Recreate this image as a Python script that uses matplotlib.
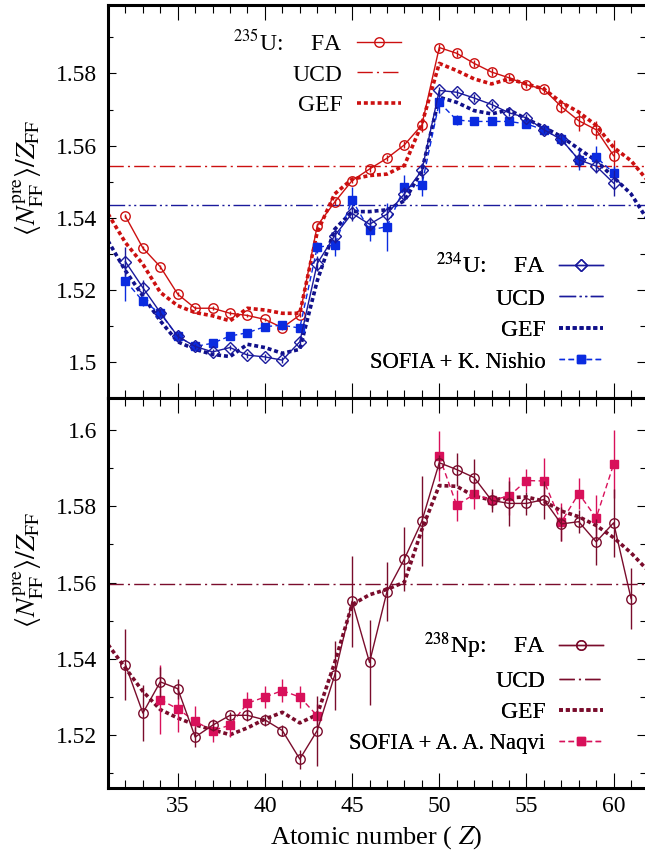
# plot.py
# Prescission neutrons per fragment charge vs atomic number, two panels

import numpy as np
import matplotlib.pyplot as plt
from matplotlib.ticker import MultipleLocator, FormatStrFormatter

plt.rcParams['font.family'] = 'serif'
plt.rcParams['font.serif'] = ['Liberation Serif', 'DejaVu Serif']
plt.rcParams['mathtext.fontset'] = 'stix'

# ---- data ----
Z_FA = np.arange(32, 61)          # 32 .. 60
Z_GEF = np.arange(31, 63)         # 31 .. 62
Z_NP = np.arange(32, 62)          # 32 .. 61
Z_NAQVI = np.arange(34, 61)       # 34 .. 60 (gap 44-49)

u235_fa = [1.5404, 1.5316, 1.5264, 1.5188, 1.5149, 1.5149, 1.5135, 1.5129, 1.5118, 1.5095,
           1.5130, 1.5378, 1.5443, 1.5503, 1.5535, 1.5565, 1.5602, 1.5657, 1.5872, 1.5856,
           1.5828, 1.5804, 1.5788, 1.5769, 1.5756, 1.5708, 1.5669, 1.5644, 1.5572]
u235_fa_err = [0.0005, 0.0005, 0.0005, 0.0005, 0.0005, 0.0005, 0.0005, 0.0005, 0.0005, 0.0005,
               0.0005, 0.0008, 0.0008, 0.0008, 0.0008, 0.0008, 0.001, 0.002, 0.001, 0.001,
               0.001, 0.001, 0.001, 0.001, 0.001, 0.0017, 0.0028, 0.0025, 0.0043]
u235_gef = [1.5411, 1.5331, 1.5271, 1.5193, 1.5156, 1.5137, 1.5128, 1.5114, 1.5149, 1.5144,
            1.5135, 1.5135, 1.5360, 1.5466, 1.5507, 1.5517, 1.5521, 1.5545, 1.5660, 1.5828,
            1.5808, 1.5785, 1.5771, 1.5785, 1.5771, 1.5757, 1.5720, 1.5693, 1.5656, 1.5595,
            1.5558, 1.5500]
u235_ucd = 1.5543

u234_fa = [1.5278, 1.5206, 1.5137, 1.5071, 1.5043, 1.5028, 1.5040, 1.5019, 1.5014, 1.5005,
           1.5056, 1.5273, 1.5350, 1.5412, 1.5382, 1.5410, 1.5466, 1.5531, 1.5753, 1.5748,
           1.5732, 1.5714, 1.5691, 1.5677, 1.5644, 1.5617, 1.5561, 1.5543, 1.5496]
u234_fa_err = [0.004, 0.002, 0.001, 0.0008, 0.0008, 0.0008, 0.0008, 0.0008, 0.0008, 0.0008,
               0.0008, 0.002, 0.002, 0.002, 0.002, 0.002, 0.002, 0.002, 0.001, 0.001,
               0.001, 0.001, 0.001, 0.001, 0.001, 0.0015, 0.002, 0.002, 0.0037]
u234_gef = [1.5336, 1.5253, 1.5183, 1.5114, 1.5056, 1.5035, 1.5021, 1.5015, 1.5049, 1.5040,
            1.5024, 1.5035, 1.5225, 1.5368, 1.5417, 1.5417, 1.5422, 1.5447, 1.5530, 1.5734,
            1.5720, 1.5697, 1.5688, 1.5699, 1.5674, 1.5651, 1.5625, 1.5591, 1.5558, 1.5512,
            1.5466, 1.5390]
u234_ucd = 1.5435
nishio = [1.5225, 1.5169, 1.5135, 1.5071, 1.5043, 1.5052, 1.5072, 1.5081, 1.5098, 1.5102,
          1.5094, 1.5318, 1.5325, 1.5449, 1.5366, 1.5375, 1.5484, 1.5491, 1.5720, 1.5671,
          1.5667, 1.5667, 1.5667, 1.5660, 1.5644, 1.5617, 1.5561, 1.5568, 1.5524]
nishio_err = [0.0055, 0.0015, 0.001, 0.0008, 0.0008, 0.0008, 0.0008, 0.0008, 0.0008, 0.0008,
              0.0008, 0.0015, 0.003, 0.0035, 0.003, 0.0067, 0.0035, 0.003, 0.003, 0.0015,
              0.001, 0.001, 0.001, 0.001, 0.001, 0.0015, 0.0028, 0.003, 0.002]

np238_fa = [1.5384, 1.5257, 1.5339, 1.5321, 1.5194, 1.5225, 1.5251, 1.5251, 1.5239, 1.5211,
            1.5136, 1.5211, 1.5356, 1.5551, 1.5390, 1.5576, 1.5662, 1.5761, 1.5915, 1.5897,
            1.5876, 1.5816, 1.5808, 1.5808, 1.5818, 1.5754, 1.5760, 1.5707, 1.5757, 1.5558]
np238_fa_err = [0.0094, 0.0073, 0.004, 0.0026, 0.0025, 0.0015, 0.001, 0.0015, 0.0015, 0.0015,
                0.0025, 0.0092, 0.009, 0.012, 0.0112, 0.0077, 0.0083, 0.0118, 0.002, 0.0044,
                0.005, 0.003, 0.006, 0.003, 0.005, 0.0045, 0.003, 0.006, 0.009, 0.008]
np238_gef = [1.5437, 1.5375, 1.5314, 1.5266, 1.5244, 1.5226, 1.5213, 1.5200, 1.5218, 1.5241,
             1.5259, 1.5231, 1.5253, 1.5389, 1.5542, 1.5568, 1.5582, 1.5601, 1.5739, 1.5855,
             1.5853, 1.5827, 1.5817, 1.5823, 1.5825, 1.5814, 1.5788, 1.5773, 1.5750, 1.5718,
             1.5678, 1.5630]
np238_ucd = 1.5597
nan = np.nan
naqvi = [1.5292, 1.5268, 1.5235, 1.5211, 1.5225, 1.5283, 1.5299, 1.5316, 1.5299, 1.5250,
         nan, nan, nan, nan, nan, nan,
         1.5932, 1.5803, 1.5832, 1.5817, 1.5827, 1.5868, 1.5867, 1.5759, 1.5834, 1.5770, 1.5911]
naqvi_err = [0.009, 0.006, 0.004, 0.003, 0.003, 0.003, 0.003, 0.003, 0.003, 0.003,
             nan, nan, nan, nan, nan, nan,
             0.0066, 0.004, 0.004, 0.002, 0.005, 0.003, 0.006, 0.005, 0.004, 0.006, 0.009]

RED = '#cc1010'
NAVY = '#1a1a9c'
GEF_BLUE = '#10108a'
SOFIA_BLUE = '#0a2be0'
MAROON = '#7a0c2c'
PINK = '#d8105a'

GEF_LS = (0, (1.1, 0.8))
UCD_LS = (0, (11, 3, 1.5, 3))
UCD2_LS = (0, (12, 2.5, 1.5, 2.5, 1.5, 2.5))
SOFIA_LS = (0, (4, 2.5))

YLABEL = r'$\langle N_{\rm FF}^{\rm pre}\rangle / Z_{\rm FF}$'


def style_axis(ax, ylo, yhi):
    ax.set_xlim(31, 61.8)
    ax.set_ylim(ylo, yhi)
    ax.xaxis.set_major_locator(MultipleLocator(5))
    ax.xaxis.set_minor_locator(MultipleLocator(1))
    ax.yaxis.set_major_locator(MultipleLocator(0.02))
    ax.yaxis.set_minor_locator(MultipleLocator(0.01))
    ax.yaxis.set_major_formatter(FormatStrFormatter('%g'))
    ax.tick_params(which='both', direction='in', top=True, right=True, labelsize=17, width=0.8)
    ax.tick_params(axis='x', which='major', length=11, pad=6)
    ax.tick_params(axis='x', which='minor', length=6)
    ax.tick_params(axis='y', which='major', length=6, pad=8)
    ax.tick_params(axis='y', which='minor', length=3.5)
    for s in ['left', 'bottom', 'top']:
        ax.spines[s].set_linewidth(2.2)
    ax.spines['right'].set_visible(False)
    ax.set_ylabel(YLABEL, fontsize=20)
    ax.yaxis.set_label_coords(-0.115, 0.56)


def group_legend(ax, handles, labels, anchor, spacing, small_last=False):
    leg = ax.legend(handles, labels, loc='upper right', bbox_to_anchor=anchor,
                    frameon=False, markerfirst=False, fontsize=17, handlelength=1.85,
                    handletextpad=0.6, labelspacing=spacing, borderpad=0, borderaxespad=0,
                    numpoints=1)
    if small_last:
        leg.get_texts()[-1].set_fontsize(16.3)
    ax.add_artist(leg)
    return leg


fig = plt.figure(figsize=(6.45, 8.58), dpi=100)
left = 108 / 645
ax1 = fig.add_axes([left, 0.5361, 1 - left, 0.4581])
ax2 = fig.add_axes([left, 0.0816, 1 - left, 0.4545])

# ---- top panel: 235U and 234U ----
h_ucd235 = ax1.axhline(u235_ucd, color=RED, lw=1.0, ls=UCD_LS)
h_ucd234 = ax1.axhline(u234_ucd, color=NAVY, lw=1.0, ls=UCD2_LS)
h_gef235, = ax1.plot(Z_GEF, u235_gef, color=RED, lw=2.6, ls=GEF_LS)
h_gef234, = ax1.plot(Z_GEF, u234_gef, color=GEF_BLUE, lw=2.6, ls=GEF_LS)

ax1.errorbar(Z_FA, u235_fa, yerr=u235_fa_err, fmt='none', ecolor=RED, elinewidth=1, capsize=0)
h_fa235, = ax1.plot(Z_FA, u235_fa, color=RED, lw=1.0, marker='o', ms=6.8, mfc='none', mew=1.0)

ax1.errorbar(Z_FA, nishio, yerr=nishio_err, fmt='none', ecolor=SOFIA_BLUE, elinewidth=1, capsize=0)
h_nishio, = ax1.plot(Z_FA, nishio, color=SOFIA_BLUE, lw=1.0, ls=SOFIA_LS, marker='s', ms=5.5,
                     mfc=SOFIA_BLUE, mec=SOFIA_BLUE)

ax1.errorbar(Z_FA, u234_fa, yerr=u234_fa_err, fmt='none', ecolor=NAVY, elinewidth=1, capsize=0)
h_fa234, = ax1.plot(Z_FA, u234_fa, color=NAVY, lw=1.0, marker='D', ms=5.8, mfc='none', mew=1.0)

style_axis(ax1, 1.49, 1.599)
ax1.tick_params(labelbottom=False)

group_legend(ax1, [h_fa235, h_ucd235, h_gef235],
             [r'$^{235}$U:$\quad\;$ FA', 'UCD', 'GEF'], (0.545, 0.938), 0.38)
group_legend(ax1, [h_fa234, h_ucd234, h_gef234, h_nishio],
             [r'$^{234}$U:$\quad\;$ FA', 'UCD', 'GEF', 'SOFIA + K. Nishio'], (0.922, 0.370),
             0.42, small_last=True)

# ---- bottom panel: 238Np ----
h_ucdnp = ax2.axhline(np238_ucd, color=MAROON, lw=1.0, ls=UCD_LS)
h_gefnp, = ax2.plot(Z_GEF, np238_gef, color=MAROON, lw=2.6, ls=GEF_LS)

ax2.errorbar(Z_NAQVI, naqvi, yerr=naqvi_err, fmt='none', ecolor=PINK, elinewidth=1, capsize=0)
h_naqvi, = ax2.plot(Z_NAQVI, naqvi, color=PINK, lw=1.0, ls=SOFIA_LS, marker='s', ms=5.5,
                    mfc=PINK, mec=PINK)

ax2.errorbar(Z_NP, np238_fa, yerr=np238_fa_err, fmt='none', ecolor=MAROON, elinewidth=1, capsize=0)
h_fanp, = ax2.plot(Z_NP, np238_fa, color=MAROON, lw=1.0, marker='o', ms=6.8, mfc='none', mew=1.0)

style_axis(ax2, 1.506, 1.6085)
ax2.set_xlabel(r'Atomic number ( $Z$)', fontsize=19, labelpad=5)

group_legend(ax2, [h_fanp, h_ucdnp, h_gefnp, h_naqvi],
             [r'$^{238}$Np:$\quad\;$ FA', 'UCD', 'GEF', 'SOFIA + A. A. Naqvi'], (0.922, 0.405),
             0.41, small_last=True)

fig.savefig('out.png', dpi=100)
